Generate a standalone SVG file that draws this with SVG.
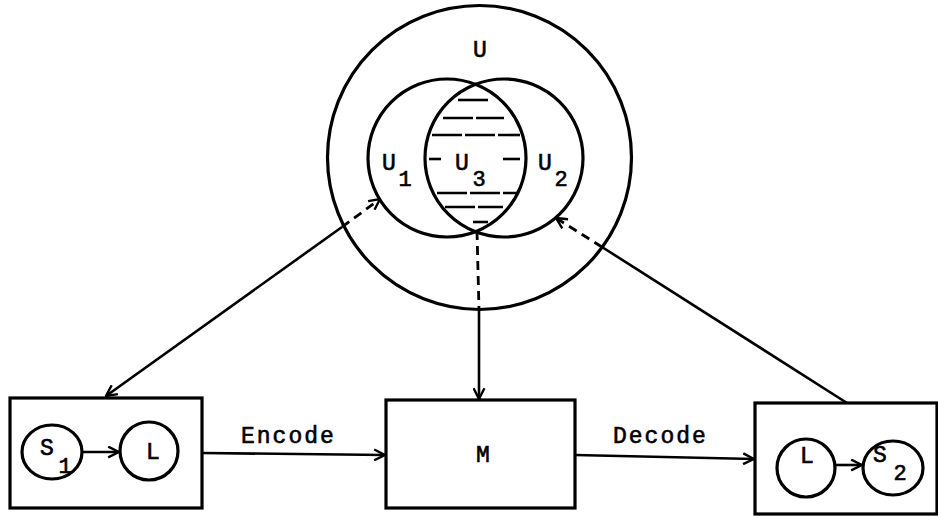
<svg xmlns="http://www.w3.org/2000/svg" width="938" height="517" viewBox="0 0 938 517">
<style>
.c{fill:none;stroke:#000;stroke-width:3.2}
.b{fill:#fff;stroke:#000;stroke-width:3.2}
.l{fill:none;stroke:#000;stroke-width:2.6}
.d{fill:none;stroke:#000;stroke-width:2.8;stroke-dasharray:9 6}
.h{fill:none;stroke:#000;stroke-width:2.6;stroke-dasharray:30 3}
.t{font-family:"Liberation Mono","Courier New",monospace;font-size:23px;fill:#000;stroke:#000;stroke-width:0.6}
.s{font-family:"Liberation Mono","Courier New",monospace;font-size:22px;fill:#000;stroke:#000;stroke-width:0.6}
</style>
<defs>
<marker id="a" viewBox="0 0 12 12" refX="11" refY="6" markerWidth="13" markerHeight="13" markerUnits="userSpaceOnUse" orient="auto">
<path d="M1,1 L11,6 L1,11" fill="none" stroke="#000" stroke-width="2.2"/>
</marker>
<marker id="as" viewBox="0 0 12 12" refX="11" refY="6" markerWidth="13" markerHeight="13" markerUnits="userSpaceOnUse" orient="auto-start-reverse">
<path d="M1,1 L11,6 L1,11" fill="none" stroke="#000" stroke-width="2.2"/>
</marker>
</defs>
<g id="universe">
<circle class="c" cx="479.5" cy="157.5" r="152"/>
<text class="t" x="480" y="57" text-anchor="middle">U</text>
</g>
<g id="U1">
<circle class="c" cx="447" cy="158" r="79"/>
<text class="t" x="389" y="170" text-anchor="middle">U</text>
<text class="s" x="405" y="186" text-anchor="middle">1</text>
</g>
<g id="U2">
<circle class="c" cx="504" cy="158" r="79"/>
<text class="t" x="545" y="170" text-anchor="middle">U</text>
<text class="s" x="561" y="186" text-anchor="middle">2</text>
</g>
<g id="U3">
<line class="h" x1="458" y1="100" x2="489" y2="100"/>
<line class="h" x1="443" y1="118" x2="504" y2="118"/>
<line class="h" x1="432" y1="135" x2="520" y2="135"/>
<line class="h" x1="429" y1="159" x2="441" y2="159"/>
<line class="h" x1="503" y1="159" x2="520" y2="159"/>
<line class="h" x1="437" y1="193" x2="517" y2="193"/>
<line class="h" x1="445" y1="207" x2="503" y2="207"/>
<line class="h" x1="473" y1="222" x2="488" y2="222"/>
<text class="t" x="462" y="170" text-anchor="middle">U</text>
<text class="s" x="479" y="186" text-anchor="middle">3</text>
</g>
<g id="sender">
<rect class="b" x="10" y="398" width="192" height="110"/>
<ellipse class="c" cx="52" cy="452" rx="30" ry="27"/>
<text class="t" x="47" y="455" text-anchor="middle">S</text>
<text class="s" x="65" y="473" text-anchor="middle">1</text>
<circle class="c" cx="149" cy="451" r="29"/>
<text class="t" x="153" y="459" text-anchor="middle">L</text>
</g>
<g id="message">
<rect class="b" x="386" y="400" width="189" height="108"/>
<text class="t" x="483" y="462" text-anchor="middle">M</text>
</g>
<g id="receiver">
<rect class="b" x="755" y="403" width="182" height="111"/>
<circle class="c" cx="806" cy="468" r="29"/>
<text class="t" x="807" y="463" text-anchor="middle">L</text>
<ellipse class="c" cx="893" cy="468" rx="30" ry="27"/>
<text class="t" x="880" y="462" text-anchor="middle">S</text>
<text class="s" x="900" y="480" text-anchor="middle">2</text>
</g>
<g id="connectors">
<line class="l" x1="83" y1="452" x2="119" y2="452" stroke-width="4" marker-end="url(#a)"/>
<line class="l" x1="835" y1="465" x2="862" y2="465" stroke-width="4" marker-end="url(#a)"/>
<line class="l" x1="202" y1="453" x2="385" y2="455" marker-end="url(#a)"/>
<text class="t" x="241" y="443" letter-spacing="2">Encode</text>
<line class="l" x1="575" y1="455" x2="754" y2="459" marker-end="url(#a)"/>
<text class="t" x="613" y="443" letter-spacing="2">Decode</text>
<line class="l" x1="342" y1="227" x2="106" y2="396" marker-end="url(#as)"/>
<line class="d" x1="342" y1="227" x2="380" y2="199" marker-end="url(#a)"/>
<line class="l" x1="847" y1="403" x2="602" y2="247"/>
<line class="d" x1="602" y1="247" x2="556" y2="218" marker-end="url(#a)"/>
<line class="d" x1="477" y1="231" x2="479" y2="310"/>
<line class="l" x1="479" y1="310" x2="479" y2="399" marker-end="url(#a)"/>
</g>
</svg>
